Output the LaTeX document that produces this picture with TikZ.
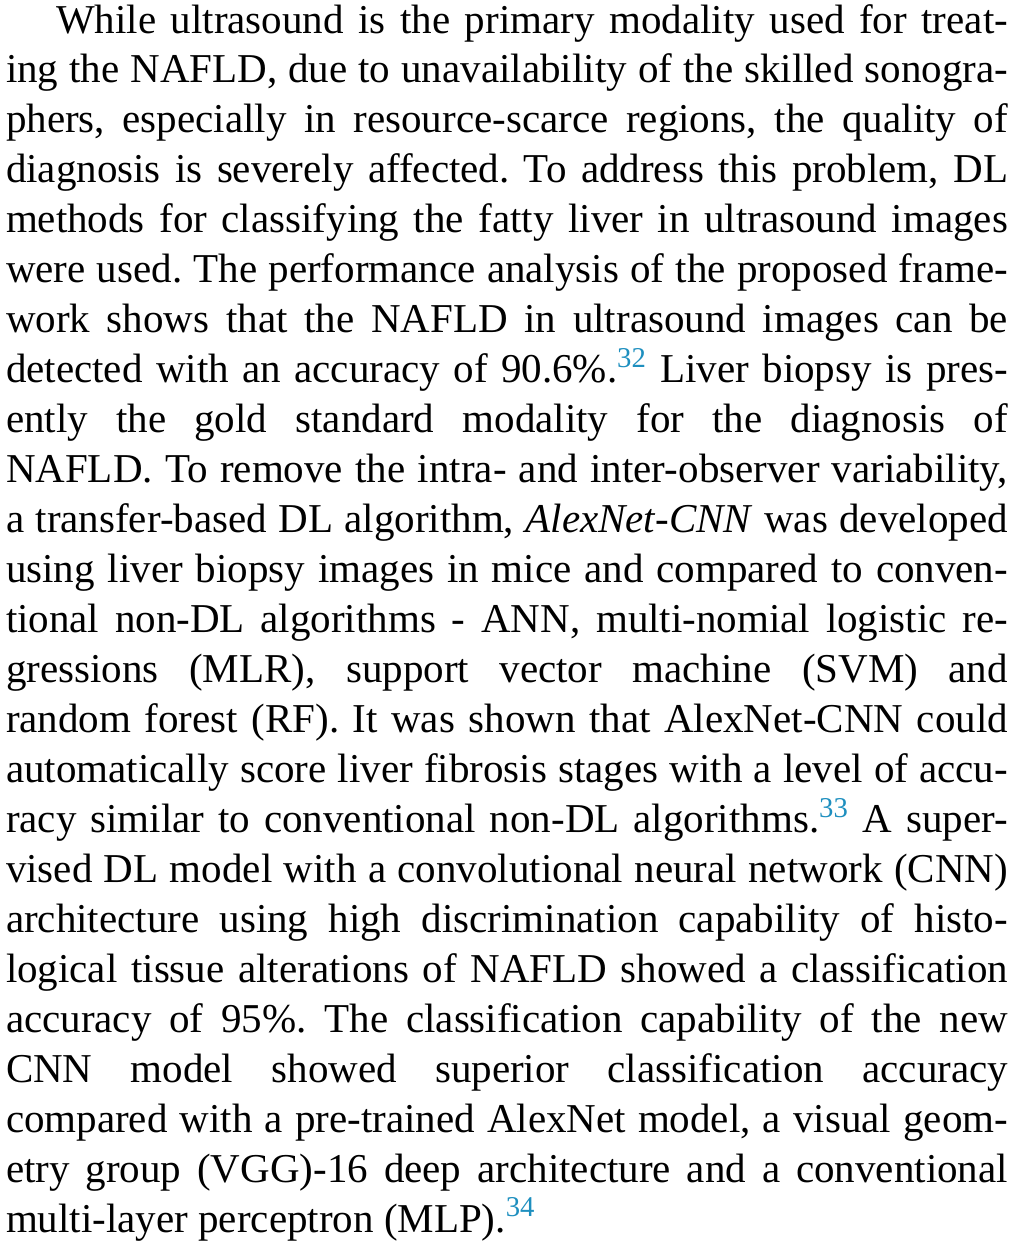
\documentclass[tikz,border=0pt]{standalone}
\usepackage{fontspec}
\setmainfont{Liberation Serif}
\definecolor{refblue}{HTML}{1E8FBF}
\newcommand{\tl}[1]{\hbox to \hsize{#1}}
\newcommand{\refsup}[1]{\textsuperscript{\color{refblue}#1}}
\tikzset{para/.style={anchor=base west, inner sep=0pt, outer sep=0pt}}
\begin{document}
\begin{tikzpicture}
\useasboundingbox (0pt,0pt) rectangle (505pt,-622pt);
\node[para] (text) at (3pt,-16.5pt) {\fontsize{20.5}{25}\selectfont\frenchspacing\vtop{\hsize=501pt \baselineskip=24.98pt \lineskiplimit=-20pt
\tl{\hspace*{25pt}While ultrasound is the primary modality used for treat-}
\tl{ing the NAFLD, due to unavailability of the skilled sonogra-}
\tl{phers, especially in resource-scarce regions, the quality of}
\tl{diagnosis is severely affected. To address this problem, DL}
\tl{methods for classifying the fatty liver in ultrasound images}
\tl{were used. The performance analysis of the proposed frame-}
\tl{work shows that the NAFLD in ultrasound images can be}
\tl{detected with an accuracy of 90.6\%.\refsup{32} Liver biopsy is pres-}
\tl{ently the gold standard modality for the diagnosis of}
\tl{NAFLD. To remove the intra- and inter-observer variability,}
\tl{a transfer-based DL algorithm, \textit{AlexNet-CNN} was developed}
\tl{using liver biopsy images in mice and compared to conven-}
\tl{tional non-DL algorithms - ANN, multi-nomial logistic re-}
\tl{gressions (MLR), support vector machine (SVM) and}
\tl{random forest (RF). It was shown that AlexNet-CNN could}
\tl{automatically score liver fibrosis stages with a level of accu-}
\tl{racy similar to conventional non-DL algorithms.\refsup{33} A super-}
\tl{vised DL model with a convolutional neural network (CNN)}
\tl{architecture using high discrimination capability of histo-}
\tl{logical tissue alterations of NAFLD showed a classification}
\tl{accuracy of 95\%. The classification capability of the new}
\tl{CNN model showed superior classification accuracy}
\tl{compared with a pre-trained AlexNet model, a visual geom-}
\tl{etry group (VGG)-16 deep architecture and a conventional}
\tl{multi-layer perceptron (MLP).\refsup{34}\hfil}
}};
\end{tikzpicture}
\end{document}
